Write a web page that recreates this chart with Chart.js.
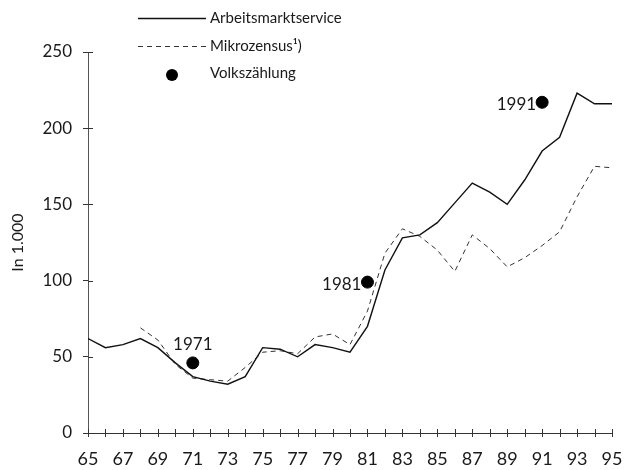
<!DOCTYPE html>
<html>
<head>
<meta charset="utf-8">
<script src="https://cdn.jsdelivr.net/npm/chart.js@4"></script>
<style>
  html, body { margin: 0; padding: 0; background: #fff; }
  #wrap { width: 625px; height: 470px; }
</style>
</head>
<body>
<div id="wrap"><canvas id="chart" width="625" height="470"></canvas></div>
<script>
// Jahre (x-Achse, 1965-1995)
var years = [65,66,67,68,69,70,71,72,73,74,75,76,77,78,79,80,81,82,83,84,85,86,87,88,89,90,91,92,93,94,95];
// Arbeitsmarktservice, in 1.000
var arbeitsmarkt = [62,56,58,62,56,46,37,34,32,37,56,55,50,58,56,53,70,107,128,130,138,151,164,158,150,166,185,194,223,216,216];
// Mikrozensus, in 1.000 (ab 1968)
var mikrozensus = [null,null,null,69,61,45,36,35,34,43,53,54,52,63,65,58,80,118,134,129,120,106,130,121,109,115,123,132,155,175,174];
// Volkszählung
var vzYears = [71,81,91];
var vzValues = [46,99,217];
var vzLabels = ['1971','1981','1991'];
var vzAlign = ['top','left','left'];
// Achsenbeschriftung
var xTickLabels = [65,67,69,71,73,75,77,79,81,83,85,87,89,91,93,95];
var yTicks = [0,50,100,150,200,250];

var FONT = 'Lato, "Open Sans", sans-serif';
var INK = '#1a1a1a';

function pairs(xs, ys) {
    return xs.map(function(x, i) { return {x: x, y: ys[i]}; });
}

// Striche, die die Achsen kreuzen, und Legende/Punktbeschriftungen
var decorations = {
    id: 'decorations',
    afterDraw: function(chart) {
        var ctx = chart.ctx;
        var area = chart.chartArea;
        var xs = chart.scales.x, ys = chart.scales.y;
        ctx.save();
        ctx.strokeStyle = '#333';
        ctx.lineWidth = 1;
        yTicks.forEach(function(v) {
            var py = Math.round(ys.getPixelForValue(v)) + 0.5;
            ctx.beginPath();
            ctx.moveTo(area.left, py);
            ctx.lineTo(area.left + 5, py);
            ctx.stroke();
        });
        years.forEach(function(v) {
            var px = Math.round(xs.getPixelForValue(v)) + 0.5;
            ctx.beginPath();
            ctx.moveTo(px, area.bottom + 4);
            ctx.lineTo(px, area.bottom - 4);
            ctx.stroke();
        });

        // Beschriftung der Volkszählungspunkte
        var meta = chart.getDatasetMeta(2);
        ctx.fillStyle = INK;
        ctx.font = '17px ' + FONT;
        meta.data.forEach(function(pt, i) {
            if (vzAlign[i] === 'top') {
                ctx.textAlign = 'center';
                ctx.textBaseline = 'middle';
                ctx.fillText(vzLabels[i], pt.x, pt.y - 18);
            } else {
                ctx.textAlign = 'right';
                ctx.textBaseline = 'middle';
                ctx.fillText(vzLabels[i], pt.x - 6, pt.y + 2);
            }
        });

        // Legende
        var lx0 = 138, lx1 = 206, tx = 210;
        var rows = [18, 46, 73];
        ctx.font = '15px ' + FONT;
        ctx.textAlign = 'left';
        ctx.textBaseline = 'middle';
        chart.data.datasets.forEach(function(ds, i) {
            var y = rows[i];
            if (ds.type === 'scatter') {
                ctx.fillStyle = ds.backgroundColor;
                ctx.beginPath();
                ctx.arc(172, y + 2, ds.pointRadius, 0, Math.PI * 2);
                ctx.fill();
            } else {
                ctx.strokeStyle = ds.borderColor;
                ctx.lineWidth = ds.borderWidth;
                ctx.setLineDash(ds.borderDash || []);
                ctx.beginPath();
                ctx.moveTo(lx0, y + 0.5);
                ctx.lineTo(lx1, y + 0.5);
                ctx.stroke();
                ctx.setLineDash([]);
            }
            ctx.fillStyle = INK;
            ctx.fillText(ds.label, tx, y);
        });
        ctx.restore();
    }
};

new Chart(document.getElementById('chart'), {
    type: 'line',
    data: {
        datasets: [{
            label: 'Arbeitsmarktservice',
            data: pairs(years, arbeitsmarkt),
            borderColor: '#111',
            borderWidth: 1.4,
            pointRadius: 0,
            tension: 0
        }, {
            label: 'Mikrozensus\u00B9)',
            data: pairs(years, mikrozensus),
            borderColor: '#333',
            borderWidth: 1,
            borderDash: [5, 4],
            pointRadius: 0,
            spanGaps: false,
            tension: 0
        }, {
            type: 'scatter',
            label: 'Volkszählung',
            data: pairs(vzYears, vzValues),
            backgroundColor: '#000',
            borderColor: '#000',
            pointRadius: 6,
            pointHoverRadius: 6
        }]
    },
    options: {
        responsive: false,
        animation: false,
        devicePixelRatio: 1,
        layout: { padding: { top: 52, right: 13, bottom: 0, left: 0 } },
        plugins: {
            legend: { display: false },
            tooltip: { enabled: false }
        },
        scales: {
            x: {
                type: 'linear',
                min: 65,
                max: 95,
                afterFit: function(scale) {
                    scale.height = 37;
                    scale.paddingLeft = 0;
                    scale.paddingRight = 0;
                },
                afterBuildTicks: function(scale) {
                    scale.ticks = xTickLabels.map(function(v) { return {value: v}; });
                },
                grid: { drawOnChartArea: false, drawTicks: false, tickLength: 5, color: '#333' },
                border: { color: '#333', width: 1 },
                ticks: {
                    color: INK,
                    font: { family: FONT, size: 18 },
                    padding: 15,
                    maxRotation: 0,
                    autoSkip: false
                }
            },
            y: {
                min: 0,
                max: 250,
                afterFit: function(scale) { scale.width = 88; },
                afterBuildTicks: function(scale) {
                    scale.ticks = yTicks.map(function(v) { return {value: v}; });
                },
                grid: { drawOnChartArea: false, tickLength: 5, color: '#333' },
                border: { color: '#555', width: 1 },
                title: {
                    display: true,
                    text: 'In 1.000',
                    color: INK,
                    font: { family: FONT, size: 16 },
                    padding: { top: 8, bottom: 6 }
                },
                ticks: {
                    color: INK,
                    font: { family: FONT, size: 17 },
                    padding: 11
                }
            }
        }
    },
    plugins: [decorations]
});
</script>
</body>
</html>
